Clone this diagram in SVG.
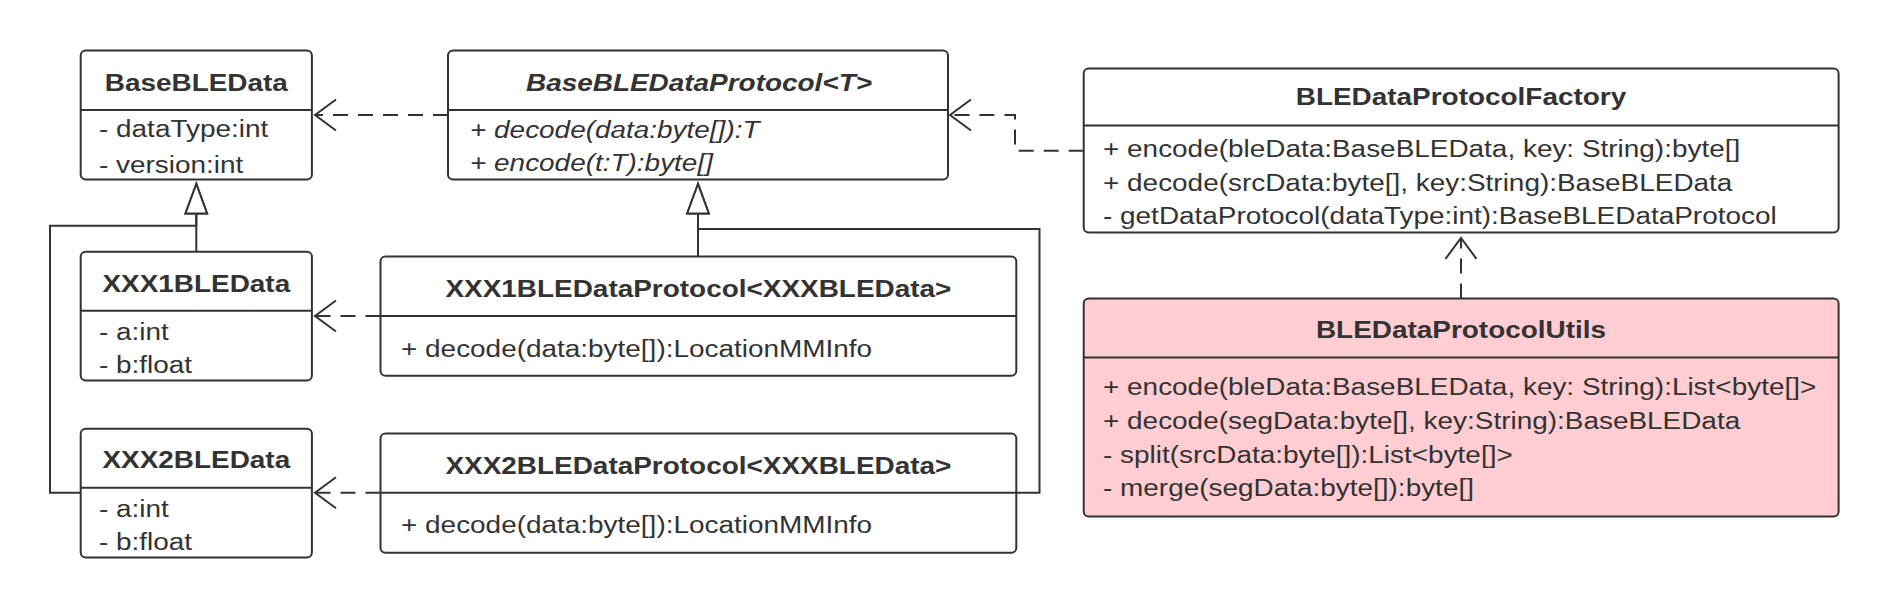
<svg xmlns="http://www.w3.org/2000/svg" width="1888" height="608" viewBox="0 0 1888 608">
<style>
.t{font-family:"Liberation Sans",Arial,Helvetica,sans-serif;font-size:24.5px;fill:#333}
.h{font-weight:bold;text-anchor:middle}
.it{font-style:italic}
.box{fill:#fff;stroke:#333;stroke-width:2}
.pink{fill:#ffcdd2}
.sep{stroke:#333;stroke-width:2}
.ln{fill:none;stroke:#333;stroke-width:2}
.dash{stroke-dasharray:15 10}
.dep{marker-end:url(#open)}
.gen{marker-end:url(#tri)}
</style>
<defs>
<marker id="open" markerUnits="userSpaceOnUse" viewBox="-24 -18 26 36" refX="0" refY="0" markerWidth="26" markerHeight="36" orient="auto" overflow="visible">
<path d="M-21,-15.5 L0,0 L-21,15.5" fill="none" stroke="#333" stroke-width="2"/>
</marker>
<marker id="tri" markerUnits="userSpaceOnUse" viewBox="-32 -13 34 26" refX="0" refY="0" markerWidth="34" markerHeight="26" orient="auto" overflow="visible">
<path d="M0,0 L-29.5,-10.8 L-29.5,10.8 Z" fill="#fff" stroke="#333" stroke-width="2"/>
</marker>
</defs>
<rect width="1888" height="608" fill="#fff"/>

<g id="connectors">
<path class="ln dash dep" d="M448,115 H315"/>
<path class="ln dash dep" d="M1083.7,150.7 H1015 V115 H950"/>
<path class="ln dash dep" d="M1461,298.6 V237.9"/>
<path class="ln dash dep" d="M380.5,316 H315"/>
<path class="ln dash dep" d="M380.5,492.7 H315"/>
<path class="ln gen" d="M196.3,251.7 V184"/>
<path class="ln gen" d="M80.7,492.7 H50 V225.7 H196.3 V184"/>
<path class="ln gen" d="M698,256.5 V184"/>
<path class="ln gen" d="M1016.3,492.8 H1039.5 V228.9 H698 V184"/>
</g>

<g id="BaseBLEData">
<rect class="box" x="80.7" y="50.6" width="231.2" height="128.8" rx="5"/>
<line class="sep" x1="80.7" y1="110" x2="311.9" y2="110"/>
<text class="t h" transform="translate(196.3 91) scale(1.14 1)">BaseBLEData</text>
<text class="t" transform="translate(99 137) scale(1.14 1)">- dataType:int</text>
<text class="t" transform="translate(99 172.5) scale(1.14 1)">- version:int</text>
</g>

<g id="BaseBLEDataProtocol">
<rect class="box" x="448" y="50.6" width="500" height="128.8" rx="5"/>
<line class="sep" x1="448" y1="110" x2="948" y2="110"/>
<text class="t h it" transform="translate(699 90.5) scale(1.14 1)">BaseBLEDataProtocol&lt;T&gt;</text>
<text class="t it" transform="translate(470 137.5) scale(1.14 1)">+ decode(data:byte[]):T</text>
<text class="t it" transform="translate(470 170.5) scale(1.14 1)">+ encode(t:T):byte[]</text>
</g>

<g id="BLEDataProtocolFactory">
<rect class="box" x="1083.7" y="68.6" width="754.9" height="163.8" rx="5"/>
<line class="sep" x1="1083.7" y1="125.5" x2="1838.6" y2="125.5"/>
<text class="t h" transform="translate(1461 104.5) scale(1.14 1)">BLEDataProtocolFactory</text>
<text class="t" transform="translate(1103 157) scale(1.14 1)">+ encode(bleData:BaseBLEData, key: String):byte[]</text>
<text class="t" transform="translate(1103 190.5) scale(1.14 1)">+ decode(srcData:byte[], key:String):BaseBLEData</text>
<text class="t" transform="translate(1103 224) scale(1.14 1)">- getDataProtocol(dataType:int):BaseBLEDataProtocol</text>
</g>

<g id="BLEDataProtocolUtils">
<rect class="box pink" x="1083.7" y="298.6" width="754.9" height="218" rx="5"/>
<line class="sep" x1="1083.7" y1="357.5" x2="1838.6" y2="357.5"/>
<text class="t h" transform="translate(1461 338.4) scale(1.14 1)">BLEDataProtocolUtils</text>
<text class="t" transform="translate(1103 395) scale(1.14 1)">+ encode(bleData:BaseBLEData, key: String):List&lt;byte[]&gt;</text>
<text class="t" transform="translate(1103 429) scale(1.14 1)">+ decode(segData:byte[], key:String):BaseBLEData</text>
<text class="t" transform="translate(1103 462.5) scale(1.14 1)">- split(srcData:byte[]):List&lt;byte[]&gt;</text>
<text class="t" transform="translate(1103 496) scale(1.14 1)">- merge(segData:byte[]):byte[]</text>
</g>

<g id="XXX1BLEData">
<rect class="box" x="80.7" y="251.7" width="231.2" height="128.8" rx="5"/>
<line class="sep" x1="80.7" y1="310.7" x2="311.9" y2="310.7"/>
<text class="t h" transform="translate(196.3 291.7) scale(1.14 1)">XXX1BLEData</text>
<text class="t" transform="translate(99 340) scale(1.14 1)">- a:int</text>
<text class="t" transform="translate(99 373.3) scale(1.14 1)">- b:float</text>
</g>

<g id="XXX2BLEData">
<rect class="box" x="80.7" y="428.7" width="231.2" height="128.8" rx="5"/>
<line class="sep" x1="80.7" y1="487.7" x2="311.9" y2="487.7"/>
<text class="t h" transform="translate(196.3 468.3) scale(1.14 1)">XXX2BLEData</text>
<text class="t" transform="translate(99 516.7) scale(1.14 1)">- a:int</text>
<text class="t" transform="translate(99 550) scale(1.14 1)">- b:float</text>
</g>

<g id="XXX1BLEDataProtocol">
<rect class="box" x="380.5" y="256.5" width="635.8" height="119.2" rx="5"/>
<line class="sep" x1="380.5" y1="316" x2="1016.3" y2="316"/>
<text class="t h" transform="translate(698.4 297) scale(1.14 1)">XXX1BLEDataProtocol&lt;XXXBLEData&gt;</text>
<text class="t" transform="translate(401 357) scale(1.14 1)">+ decode(data:byte[]):LocationMMInfo</text>
</g>

<g id="XXX2BLEDataProtocol">
<rect class="box" x="380.5" y="433.5" width="635.8" height="119.2" rx="5"/>
<line class="sep" x1="380.5" y1="492.8" x2="1016.3" y2="492.8"/>
<text class="t h" transform="translate(698.4 473.5) scale(1.14 1)">XXX2BLEDataProtocol&lt;XXXBLEData&gt;</text>
<text class="t" transform="translate(401 533.4) scale(1.14 1)">+ decode(data:byte[]):LocationMMInfo</text>
</g>
</svg>
